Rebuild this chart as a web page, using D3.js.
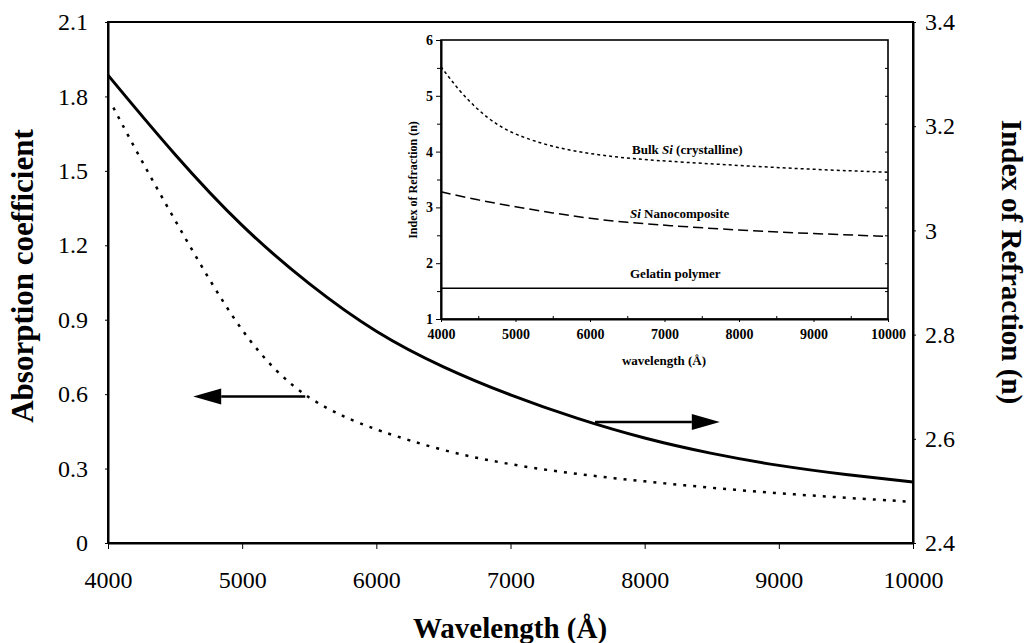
<!DOCTYPE html>
<html>
<head>
<meta charset="utf-8">
<script src="https://cdn.jsdelivr.net/npm/d3@7"></script>
<style>
  body { margin: 0; background: #fff; }
  svg { display: block; }
  svg text { font-family: "Liberation Serif", "Times New Roman", serif !important; fill: #000; }
</style>
</head>
<body>
<svg id="chart" width="1036" height="643"></svg>
<script>
// main chart data
const wavelengths = [4000, 4500, 5000, 5500, 6000, 6500, 7000, 7500, 8000, 8500, 9000, 9500, 10000];
// index of refraction of the nanocomposite (right axis)
const indexMain = [3.298, 3.143, 3.005, 2.895, 2.802, 2.736, 2.683, 2.638, 2.600, 2.571, 2.548, 2.531, 2.517];
// absorption coefficient (left axis)
const absWavelengths = [4040, 4250, 4500, 4750, 5000, 5250, 5500, 5750, 6000, 6500, 7000, 7500, 8000, 8500, 9000, 9500, 10000];
const absorption = [1.755, 1.54, 1.30, 1.065, 0.85, 0.69, 0.58, 0.51, 0.455, 0.37, 0.315, 0.277, 0.248, 0.222, 0.200, 0.182, 0.166];

const xTicks = [4000, 5000, 6000, 7000, 8000, 9000, 10000];
const leftTicks = [0, 0.3, 0.6, 0.9, 1.2, 1.5, 1.8, 2.1];
const leftTickLabels = ["0", "0.3", "0.6", "0.9", "1.2", "1.5", "1.8", "2.1"];
const rightTicks = [2.4, 2.6, 2.8, 3.0, 3.2, 3.4];
const rightTickLabels = ["2.4", "2.6", "2.8", "3", "3.2", "3.4"];

// inset data
const bulkWavelengths = [4000, 4250, 4500, 4750, 5000, 5500, 6000, 6500, 7000, 8000, 9000, 10000];
const bulkSi = [5.52, 5.08, 4.74, 4.48, 4.30, 4.08, 3.96, 3.88, 3.83, 3.75, 3.68, 3.63];
const nanoWavelengths = [4000, 4500, 5000, 5500, 6000, 6500, 7000, 8000, 9000, 10000];
const nanoSi = [3.28, 3.13, 3.01, 2.90, 2.80, 2.73, 2.68, 2.59, 2.53, 2.48];
const gelatinWavelengths = [4000, 10000];
const gelatin = [1.55, 1.55];
const insetYTicks = [1, 2, 3, 4, 5, 6];

const svg = d3.select("#chart");
const serif = "Liberation Serif";

// --- main scales ---
const x = d3.scaleLinear().domain([4000, 10000]).range([108, 913]);
const yL = d3.scaleLinear().domain([0, 2.1]).range([543, 22]);
const yR = d3.scaleLinear().domain([2.4, 3.4]).range([543, 22]);

// frame
svg.append("rect")
    .attr("x", 108).attr("y", 22)
    .attr("width", 913 - 108).attr("height", 543 - 22)
    .attr("fill", "none").attr("stroke", "#000").attr("stroke-width", 2);

// axes
const gx = svg.append("g").attr("transform", "translate(0,543)")
    .call(d3.axisBottom(x).tickValues(xTicks).tickFormat(d3.format("d")).tickSizeInner(6).tickSizeOuter(0).tickPadding(22));
const gl = svg.append("g").attr("transform", "translate(108,0)")
    .call(d3.axisLeft(yL).tickValues(leftTicks).tickFormat((d, i) => leftTickLabels[i]).tickSizeInner(3).tickSizeOuter(0).tickPadding(17));
const gr = svg.append("g").attr("transform", "translate(913,0)")
    .call(d3.axisRight(yR).tickValues(rightTicks).tickFormat((d, i) => rightTickLabels[i]).tickSizeInner(3).tickSizeOuter(0).tickPadding(9));

[gx, gl, gr].forEach(g => {
    g.attr("font-family", serif).attr("font-size", 24);
    g.select(".domain").attr("stroke-width", 2);
    g.selectAll("text").attr("font-family", serif).attr("font-size", 24);
});

// curves
const line = d3.line().curve(d3.curveBasis);

svg.append("path")
    .attr("d", line(wavelengths.map((w, i) => [x(w), yR(indexMain[i])])))
    .attr("fill", "none").attr("stroke", "#000").attr("stroke-width", 3);

svg.append("path")
    .attr("d", line(absWavelengths.map((w, i) => [x(w), yL(absorption[i])])))
    .attr("fill", "none").attr("stroke", "#000").attr("stroke-width", 2.5)
    .attr("stroke-dasharray", "3,7");

// arrows
function arrow(x1, x2, yy) {
    const dir = Math.sign(x2 - x1);
    const headLen = 28, half = 8;
    svg.append("line")
        .attr("x1", x1).attr("x2", x2 - dir * headLen)
        .attr("y1", yy).attr("y2", yy)
        .attr("stroke", "#000").attr("stroke-width", 2.5);
    svg.append("path")
        .attr("d", `M${x2},${yy}L${x2 - dir * headLen},${yy - half}L${x2 - dir * headLen},${yy + half}Z`)
        .attr("fill", "#000");
}
arrow(x(5470), x(4635), yL(0.59));
arrow(x(7630), x(8560), yL(0.488));

// axis titles
svg.append("text")
    .attr("transform", "translate(33,276) rotate(-90)")
    .attr("text-anchor", "middle")
    .attr("font-family", serif).attr("font-size", 31).attr("font-weight", "bold")
    .text("Absorption coefficient");

svg.append("text")
    .attr("transform", "translate(1002,262) rotate(90)")
    .attr("text-anchor", "middle")
    .attr("font-family", serif).attr("font-size", 29).attr("font-weight", "bold")
    .text("Index of Refraction (n)");

svg.append("text")
    .attr("x", 510).attr("y", 638)
    .attr("text-anchor", "middle")
    .attr("font-family", serif).attr("font-size", 29).attr("font-weight", "bold")
    .text("Wavelength (Å)");

// --- inset ---
const xi = d3.scaleLinear().domain([4000, 10000]).range([441, 888]);
const yi = d3.scaleLinear().domain([1, 6]).range([319, 40]);
const inset = svg.append("g");

inset.append("rect")
    .attr("x", 441).attr("y", 40)
    .attr("width", 888 - 441).attr("height", 319 - 40)
    .attr("fill", "#fff").attr("stroke", "#000").attr("stroke-width", 1.6);

const gix = inset.append("g").attr("transform", "translate(0,319)")
    .call(d3.axisBottom(xi).tickValues(xTicks).tickFormat(d3.format("d")).tickSizeInner(3).tickSizeOuter(0).tickPadding(7));
// minor ticks
inset.append("g").attr("transform", "translate(0,319)")
    .call(d3.axisBottom(xi).tickValues(d3.range(4500, 10000, 1000)).tickFormat("").tickSizeInner(-3).tickSizeOuter(0))
    .select(".domain").remove();
const giy = inset.append("g").attr("transform", "translate(441,0)")
    .call(d3.axisLeft(yi).tickValues(insetYTicks).tickFormat(d3.format("d")).tickSizeInner(5).tickSizeOuter(0).tickPadding(3));
inset.append("g").attr("transform", "translate(441,0)")
    .call(d3.axisLeft(yi).tickValues(d3.range(1.5, 6, 1)).tickFormat("").tickSizeInner(4).tickSizeOuter(0))
    .select(".domain").remove();
inset.append("g").attr("transform", "translate(888,0)")
    .call(d3.axisLeft(yi).tickValues(d3.range(1.5, 6, 0.5)).tickFormat("").tickSizeInner(3).tickSizeOuter(0))
    .select(".domain").remove();

[gix, giy].forEach(g => {
    g.attr("font-family", serif).attr("font-size", 14);
    g.select(".domain").attr("stroke-width", 2);
    g.selectAll("text").attr("font-family", serif).attr("font-size", 14).attr("font-weight", "bold");
});

inset.append("path")
    .attr("d", line(bulkWavelengths.map((w, i) => [xi(w), yi(bulkSi[i])])))
    .attr("fill", "none").attr("stroke", "#000").attr("stroke-width", 1.5)
    .attr("stroke-dasharray", "3,3");
inset.append("path")
    .attr("d", line(nanoWavelengths.map((w, i) => [xi(w), yi(nanoSi[i])])))
    .attr("fill", "none").attr("stroke", "#000").attr("stroke-width", 1.5)
    .attr("stroke-dasharray", "10,5");
inset.append("path")
    .attr("d", line(gelatinWavelengths.map((w, i) => [xi(w), yi(gelatin[i])])))
    .attr("fill", "none").attr("stroke", "#000").attr("stroke-width", 1.5);

// curve labels
const bulkLabel = inset.append("text").attr("x", 632).attr("y", 154)
    .attr("font-family", serif).attr("font-size", 13).attr("font-weight", "bold");
bulkLabel.append("tspan").text("Bulk ");
bulkLabel.append("tspan").attr("font-style", "italic").text("Si");
bulkLabel.append("tspan").text(" (crystalline)");

const nanoLabel = inset.append("text").attr("x", 630).attr("y", 218)
    .attr("font-family", serif).attr("font-size", 13).attr("font-weight", "bold");
nanoLabel.append("tspan").attr("font-style", "italic").text("Si");
nanoLabel.append("tspan").text(" Nanocomposite");

inset.append("text").attr("x", 630).attr("y", 278)
    .attr("font-family", serif).attr("font-size", 13).attr("font-weight", "bold")
    .text("Gelatin polymer");

inset.append("text")
    .attr("x", 664).attr("y", 365)
    .attr("text-anchor", "middle")
    .attr("font-family", serif).attr("font-size", 13).attr("font-weight", "bold")
    .text("wavelength (Å)");

inset.append("text")
    .attr("transform", "translate(417,180) rotate(-90)")
    .attr("text-anchor", "middle")
    .attr("font-family", serif).attr("font-size", 12).attr("font-weight", "bold")
    .text("Index of Refraction (n)");
</script>
</body>
</html>
